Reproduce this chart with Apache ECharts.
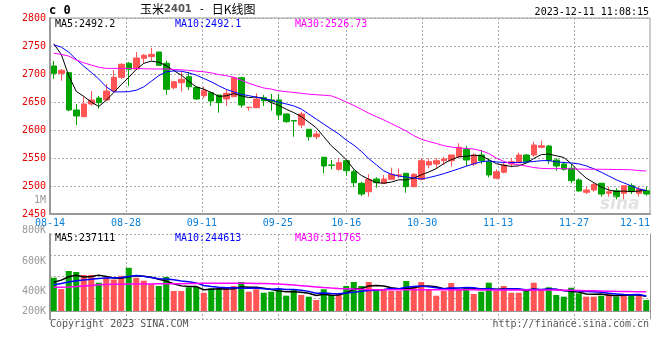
<!DOCTYPE html>
<html><head><meta charset="utf-8">
<script src="https://cdn.jsdelivr.net/npm/echarts@6/dist/echarts.min.js"></script>
<style>html,body{margin:0;padding:0;background:#fff}#c{width:660px;height:360px}</style>
</head><body><div id="c"></div>
<script>
const dates = ['08-14','08-15','08-16','08-17','08-18','08-21','08-22','08-23','08-24','08-25','08-28','08-29','08-30','08-31',
'09-01','09-04','09-05','09-06','09-07','09-08','09-11','09-12','09-13','09-14','09-15','09-18','09-19','09-20','09-21','09-22','09-25','09-26','09-27','09-28',
'10-09','10-10','10-11','10-12','10-13','10-16','10-17','10-18','10-19','10-20','10-23','10-24','10-25','10-26','10-27','10-30','10-31',
'11-01','11-02','11-03','11-06','11-07','11-08','11-09','11-10','11-13','11-14','11-15','11-16','11-17','11-20','11-21','11-22','11-23','11-24','11-27','11-28','11-29','11-30',
'12-01','12-04','12-05','12-06','12-07','12-08','12-11'];
const labelDates = ['08-14','08-28','09-11','09-25','10-16','10-30','11-13','11-27','12-11'];

const opens = [2714.3,2701.2,2702.3,2635.7,2623.8,2646.4,2657.1,2653.6,2669.6,2694.1,
2719.1,2708.9,2728.0,2730.9,2739.3,2719.1,2675.5,2684.4,2695.2,2676.2,
2661.2,2666.6,2662.5,2655.4,2659.5,2693.4,2640.0,2639.8,2657.7,2653.6,
2653.6,2628.6,2617.0,2608.9,2601.2,2588.0,2551.3,2537.5,2529.8,2545.2,
2525.5,2504.8,2489.8,2512.5,2504.8,2511.9,2519.0,2522.7,2498.8,2511.9,
2537.5,2539.3,2545.2,2545.2,2552.3,2565.5,2539.3,2555.4,2543.4,2513.8,
2524.5,2539.3,2541.6,2555.4,2555.4,2569.1,2571.4,2546.4,2539.3,2531.6,
2510.7,2488.8,2492.9,2504.8,2487.0,2491.6,2487.0,2500.5,2487.0,2491.6];
const closes = [2701.2,2706.6,2635.7,2625.0,2646.4,2653.6,2648.8,2669.6,2694.1,2717.3,
2708.4,2728.6,2733.4,2735.2,2715.5,2672.7,2686.2,2690.5,2677.3,2655.4,
2670.9,2651.8,2648.8,2665.5,2693.4,2644.6,2640.5,2655.4,2652.3,2650.5,
2626.8,2614.8,2616.0,2628.6,2588.0,2592.9,2535.7,2537.0,2541.6,2527.3,
2505.9,2485.7,2511.9,2505.9,2512.5,2520.9,2520.0,2498.8,2520.9,2545.2,
2543.4,2545.2,2548.2,2555.4,2569.1,2546.4,2555.4,2545.2,2519.7,2525.5,
2537.5,2543.4,2555.4,2543.4,2573.2,2571.9,2545.2,2535.7,2529.8,2509.5,
2491.1,2492.9,2503.0,2485.7,2489.8,2480.9,2500.5,2489.8,2494.6,2485.7];
const lows = [2691.1,2688.0,2633.9,2608.9,2622.7,2643.4,2638.0,2652.3,2668.4,2691.1,
2678.6,2708.4,2719.1,2723.7,2714.3,2663.0,2672.7,2668.4,2671.4,2653.6,
2656.6,2642.9,2630.9,2642.9,2659.5,2639.8,2634.5,2639.8,2642.9,2634.5,
2617.9,2613.0,2588.0,2603.0,2580.9,2583.4,2522.7,2529.8,2527.3,2518.4,
2497.7,2482.1,2480.9,2497.0,2504.8,2510.7,2513.8,2488.0,2498.0,2510.0,
2531.6,2531.6,2537.5,2534.5,2551.3,2535.7,2535.7,2539.3,2515.5,2511.9,
2522.7,2533.4,2540.5,2541.6,2552.3,2567.3,2539.3,2527.3,2527.3,2504.8,
2489.8,2485.7,2489.8,2480.9,2480.9,2476.3,2476.3,2485.7,2480.9,2482.9];
const highs = [2723.2,2708.9,2703.0,2646.4,2659.5,2669.6,2660.7,2682.1,2707.1,2719.1,
2721.4,2739.3,2735.7,2747.0,2739.3,2723.7,2687.5,2704.8,2704.1,2678.6,
2677.3,2668.0,2662.5,2672.7,2695.2,2695.2,2641.6,2665.5,2662.5,2664.3,
2664.3,2629.8,2617.9,2632.7,2601.2,2598.2,2551.3,2546.4,2549.5,2546.4,
2529.8,2507.7,2520.9,2515.5,2519.7,2532.7,2531.6,2522.7,2522.7,2550.0,
2549.5,2550.0,2552.3,2555.4,2576.3,2571.4,2558.4,2564.3,2549.5,2529.8,
2541.6,2549.5,2559.5,2557.1,2579.1,2580.9,2573.2,2549.5,2543.4,2539.3,
2513.8,2498.8,2504.8,2505.9,2498.8,2495.9,2500.5,2504.8,2498.8,2498.8];

const ma5 = [2754,2735,2697,2669,2660,2650,2642,2653,2667,2681,2694,2708,2719,2723,2721,2715,2706,2698,2687,2677,
2673,2667,2660,2661,2665,2661,2658,2659,2656,2649,2644,2637,2631,2624,2614,2604,2588,2572,2560,2547,
2530,2519,2512,2506,2505,2507,2511,2511,2514,2520,2525,2531,2540,2547,2552,2553,2555,2554,2547,2540,
2537,2535,2536,2541,2549,2556,2557,2554,2551,2540,2526,2514,2506,2498,2493,2490,2491,2490,2491,2492.2];
const ma10 = [2752,2748,2739,2726,2714,2703,2691,2677,2668,2668,2668.5,2671,2677,2687,2697,2704,2705.5,2705,2702,2698,
2692,2686,2679,2672.5,2668,2663.6,2661.4,2658.5,2656,2653.4,2649.5,2646.5,2643,2637.5,2628.5,2619.5,2610.5,2601.5,2593,2582,
2573,2562,2549,2538,2527,2521,2517.6,2516,2514.6,2512.4,2515,2518.3,2522,2526.3,2530.8,2535.3,2539.6,2543.3,2544.8,2543,
2542,2542,2542,2542.6,2543.8,2545.2,2545.4,2543.1,2542,2541.1,2539.5,2535.9,2530.7,2524.6,2517.9,2511.1,2505.6,2500.2,2494.8,2492.1];
const ma30 = [2737,2735,2732,2725,2720,2716,2712,2710,2710,2710,2710,2710,2709.5,2709,2709,2709,2708,2707.5,2706.5,2705,
2704,2702,2699,2697,2694,2689,2683.5,2679,2675,2673,2670,2668.5,2667,2665.5,2664,2663,2662,2661,2656,2650,
2644,2637,2630,2624,2618,2611.5,2605,2598,2590,2583.5,2579.5,2576,2572,2569.5,2568,2567,2566,2563,2558,2550,
2544,2540,2538,2535.5,2533,2531.5,2531,2531,2531,2530.5,2530.3,2530,2530,2529.8,2529.7,2529.5,2529.3,2529,2527.5,2526.73];

const volumes = [539000,356000,648000,632000,583000,583000,458000,539000,510000,570000,
700000,539000,491000,433000,405000,551000,324000,324000,384000,394000,
296000,368000,352000,377000,405000,470000,313000,352000,296000,313000,
356000,248000,340000,259000,232000,178000,352000,259000,275000,405000,
470000,405000,470000,324000,352000,324000,324000,486000,405000,470000,
352000,248000,324000,454000,356000,384000,275000,313000,458000,324000,
405000,296000,296000,324000,458000,324000,384000,259000,232000,377000,
287000,232000,232000,248000,287000,232000,275000,248000,248000,178000];
const volMa5 = [465000,500000,555000,580000,552000,560000,581000,559000,535000,532000,
555000,572000,562000,547000,514000,484000,441000,407000,398000,395000,
344000,353000,359000,357000,360000,394000,383000,383000,367000,349000,
326000,313000,311000,303000,287000,251000,272000,256000,259000,294000,
352000,363000,405000,415000,404000,375000,359000,362000,378000,402000,
407000,392000,360000,370000,347000,353000,359000,356000,357000,351000,
355000,359000,356000,329000,356000,340000,357000,350000,331000,315000,
308000,277000,272000,275000,257000,246000,255000,258000,258000,237111];
const volMa10 = [425000,445000,470000,490000,503000,515000,525000,533000,538000,542000,
558000,576000,561000,541000,523000,520000,506000,485000,472000,455000,
414000,397000,383000,378000,378000,369000,368000,371000,362000,354000,
360000,348000,347000,335000,318000,289000,293000,283000,281000,290000,
302000,318000,331000,337000,349000,364000,361000,384000,397000,403000,
391000,376000,361000,374000,374000,380000,375000,358000,363000,349000,
354000,359000,356000,343000,353000,347000,358000,353000,330000,336000,
324000,317000,311000,303000,286000,277000,266000,265000,267000,244613];
const volMa30 = [384000,386000,390000,395000,405000,415000,425000,430000,433000,435000,
436000,437000,438000,439000,440000,441000,442000,443000,445000,447000,
448000,449000,450000,450000,450000,449000,448000,447000,445000,443000,
438000,430000,420000,410000,400000,390000,380000,372000,365000,360000,
355000,351000,348000,346000,345000,345000,345000,345000,345000,345000,
344000,344000,343000,343000,343000,343000,343000,342000,342000,342000,
342000,342000,342000,342000,342000,341000,340000,339000,338000,336000,
333000,330000,327000,324000,321000,318000,316000,314000,313000,311765];

const priceLegend = ['MA5:2492.2','MA10:2492.1','MA30:2526.73'];
const volLegend = ['MA5:237111','MA10:244613','MA30:311765'];
const volTickLabels = ['1M','800K','600K','400K','200K'];

const MONO = '"DejaVu Sans Mono", "Liberation Mono", monospace';
const RED = '#ff5555', GREEN = '#00a400';
const GRIDC = '#aaaaaa', BORDER = '#999999';
const maColors = ['#000000','#0000ff','#ff00ff'];

const labelIdx = new Set(labelDates.map(d => dates.indexOf(d)));
const splitIdx = new Set([...labelIdx].filter(i => i > 0 && i < dates.length - 1));

const candleData = dates.map((d, i) => [opens[i], closes[i], lows[i], highs[i]]);
const volData = volumes.map((v, i) => ({ value: v, itemStyle: { color: closes[i] >= opens[i] ? RED : GREEN } }));

const chart = echarts.init(document.getElementById('c'));
const dotted = { color: GRIDC, width: 1, type: [2, 2] };

function txt(x, y, text, fill, align, font) {
  return { type: 'text', x: x, y: y, silent: true, z: 100,
    style: { text: text, fill: fill, font: font || ('10px ' + MONO), align: align || 'left', verticalAlign: 'middle' } };
}
const volTickY = [200, 230, 261, 291, 311];
const legendX = [55, 175, 295];

const graphics = [
  txt(49, 11, 'c 0', '#000', 'left', 'bold 12px ' + MONO),
  { type: 'text', x: 140, y: 9, z: 100, style: {
      text: '{a|玉米}{b|2401}{s| - }{a|日K线图}', verticalAlign: 'middle',
      rich: { a: { font: '12px "Noto Sans CJK SC"', fill: '#000' },
              s: { font: '11px "DejaVu Sans Mono"', fill: '#000' },
              b: { font: 'bold 10px "DejaVu Sans"', fill: '#555' } } } },
  txt(649, 12, '2023-12-11 11:08:15', '#000', 'right'),
  txt(50, 324, 'Copyright 2023 SINA.COM', '#555', 'left'),
  txt(649, 324, 'http://finance.sina.com.cn', '#555', 'right'),
  txt(600, 205, 'sina', 'rgba(190,190,190,0.45)', 'left', 'italic bold 17px "DejaVu Sans"')
];
priceLegend.forEach((t, k) => graphics.push(txt(legendX[k], 24, t, maColors[k])));
volLegend.forEach((t, k) => graphics.push(txt(legendX[k], 238, t, maColors[k])));
volTickLabels.forEach((t, k) => graphics.push(txt(46, volTickY[k], t, '#999', 'right')));

function maLine(data, color, xi, yi, w) {
  return { type: 'line', data: data, xAxisIndex: xi, yAxisIndex: yi, symbol: 'none', smooth: false,
    lineStyle: { color: color, width: w || 1 }, z: 5, silent: true };
}

chart.setOption({
  animation: false,
  backgroundColor: '#fff',
  grid: [
    { left: 50, top: 18, width: 600, height: 196, show: true, borderColor: BORDER, borderWidth: 1, backgroundColor: 'transparent' },
    { left: 50, top: 234, width: 600, height: 85 }
  ],
  xAxis: [
    { gridIndex: 0, type: 'category', data: dates, boundaryGap: true, show: false },
    { gridIndex: 0, type: 'category', data: dates, boundaryGap: false, position: 'bottom',
      axisLine: { show: true, lineStyle: { color: BORDER, width: 2 } }, axisTick: { show: false },
      axisLabel: { interval: (i) => labelIdx.has(i), color: '#0a7fd8', fontFamily: MONO, fontSize: 10, margin: 4,
                   alignMinLabel: 'center', alignMaxLabel: 'right', showMinLabel: true, showMaxLabel: true },
      splitLine: { show: true, interval: (i) => splitIdx.has(i), lineStyle: dotted } },
    { gridIndex: 1, type: 'category', data: dates, boundaryGap: true, show: false },
    { gridIndex: 1, type: 'category', data: dates, boundaryGap: false, position: 'top',
      axisLine: { show: true, lineStyle: { color: BORDER, width: 1 } }, axisTick: { show: false }, axisLabel: { show: false },
      splitLine: { show: true, interval: (i) => splitIdx.has(i), lineStyle: dotted } }
  ],
  yAxis: [
    { gridIndex: 0, type: 'value', min: 2450, max: 2800, interval: 50,
      axisLine: { show: true, lineStyle: { color: BORDER, width: 2 } }, axisTick: { show: false },
      axisLabel: { color: '#e60000', fontFamily: MONO, fontSize: 10, margin: 4, formatter: (v) => String(v) },
      splitLine: { show: true, lineStyle: dotted } },
    { gridIndex: 1, type: 'value', min: 0, max: 4, interval: 1,
      axisLine: { show: true, lineStyle: { color: BORDER, width: 2 } }, axisTick: { show: false }, axisLabel: { show: false },
      splitLine: { show: true, lineStyle: dotted } },
    { gridIndex: 1, type: 'value', min: -129600, max: 1247400, position: 'right',
      axisLine: { show: true, lineStyle: { color: BORDER, width: 1 } }, axisTick: { show: false }, axisLabel: { show: false },
      splitLine: { show: false } }
  ],
  series: [
    { type: 'candlestick', data: candleData, xAxisIndex: 0, yAxisIndex: 0, barWidth: 6, silent: true, z: 3,
      itemStyle: { color: RED, color0: GREEN, borderColor: RED, borderColor0: GREEN, borderWidth: 1 } },
    maLine(ma5, maColors[0], 0, 0), maLine(ma10, maColors[1], 0, 0), maLine(ma30, maColors[2], 0, 0),
    { type: 'bar', data: volData, xAxisIndex: 2, yAxisIndex: 2, barWidth: 6, silent: true, z: 3 },
    maLine(volMa5, maColors[0], 2, 2, 1.5), maLine(volMa10, maColors[1], 2, 2, 1.5), maLine(volMa30, maColors[2], 2, 2, 1.5)
  ],
  graphic: graphics
});
</script>
</body></html>
